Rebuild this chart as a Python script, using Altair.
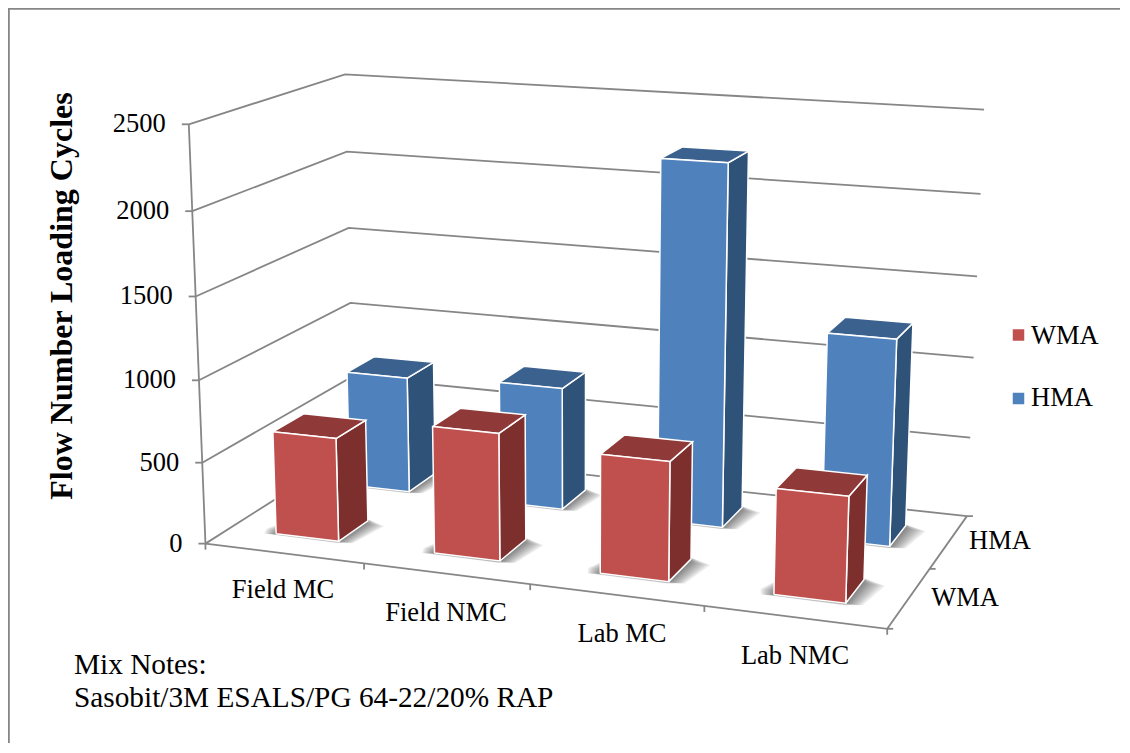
import altair as alt
import numpy as np
import pandas as pd

categories = ["Field MC", "Field NMC", "Lab MC", "Lab NMC"]
series = ["WMA", "HMA"]
wma_values = [635, 770, 710, 620]
hma_values = [740, 770, 2225, 1260]
value_ticks = [0, 500, 1000, 1500, 2000, 2500]
axis_max = 2500

# camera calibration: chart-space (u, v, w) -> page position
calib_3d = [(0,0,0),(0,0,.2),(0,0,.4),(0,0,.6),(0,0,.8),(0,0,1),
            (0,1,0),(0,1,.4),(0,1,.6),(0,1,.8),(0,1,1),
            (1,1,0),(1,1,.2),(1,1,.4),(1,1,.6),(1,1,.8),(1,1,1),
            (1,0,0),(.25,0,0),(.5,0,0),(.75,0,0),(1,.5,0)]
calib_2d = [(206,543),(203,462),(199,380),(196,296),(192,212),(188,125),
            (353,452),(351,303),(349,227),(347,151),(345,74),
            (966,515),(970,437),(974,358),(978,277),(981,194),(983,110),
            (888,630),(363,563),(530,584),(704,606.5),(930,568)]

A, b = [], []
for (X, Y, Z), (px, py) in zip(calib_3d, calib_2d):
    A.append([X, Y, Z, 1, 0, 0, 0, 0, -px*X, -px*Y, -px*Z]); b.append(px)
    A.append([0, 0, 0, 0, X, Y, Z, 1, -py*X, -py*Y, -py*Z]); b.append(py)
P = np.append(np.linalg.lstsq(np.array(A, float), np.array(b, float), rcond=None)[0], 1).reshape(3, 4)


def proj(u, v, val):
    q = P @ np.array([u, v, val / axis_max, 1.0])
    return q[0] / q[2], q[1] / q[2]


polys = []
def add(kind, pid, pts, close=True):
    pts = list(pts) + ([pts[0]] if close else [])
    for i, (px, py) in enumerate(pts):
        polys.append(dict(kind=kind, pid=pid, seq=i, x=px, y=py))


# walls and floor lines
for t in value_ticks:
    add("grid", f"g{t}", [proj(0, 0, t), proj(0, 1, t), proj(1, 1, t)], close=False)
    x0, y0 = proj(0, 0, t)
    add("grid", f"t{t}", [(x0, y0), (x0 - 7, y0)], close=False)
add("grid", "yaxis", [proj(0, 0, 0), proj(0, 0, axis_max)], close=False)
add("grid", "front", [proj(0, 0, 0), proj(1, 0, 0), proj(1, 1, 0)], close=False)
for i in range(5):
    x0, y0 = proj(i / 4, 0, 0)
    add("grid", f"c{i}", [(x0, y0), (x0, y0 + 6)], close=False)
for i in range(3):
    x0, y0 = proj(1, i / 2, 0)
    add("grid", f"d{i}", [(x0, y0), (x0 + 6, y0)], close=False)

# bars
hw, hd = 0.05, 0.1
shadow_spread = [.033, .029, .025, .021, .017, .013, .010, .007, .004, .002]
for s, (name, vals, vc) in enumerate([("HMA", hma_values, .75), ("WMA", wma_values, .25)]):
    for i, val in enumerate(vals):
        uc = (i + .5) / 4
        u0, u1, v0, v1 = uc - hw, uc + hw, vc - hd, vc + hd
        for k, e in enumerate(shadow_spread):
            add("shadow", f"sh{name}{i}{k}",
                [proj(u0 - .7 * e, v0 + .03, 0), proj(u0 - .5 * e, v0 - .35 * e, 0), proj(u1, v0 - .5 * e, 0),
                 proj(u1 + .7 * e, v0, 0), proj(u1 + e, v1 - .03, 0), proj(u1, v1 + .3 * e, 0), proj(u0, v1, 0)])
        add(name + "side", f"{name}{i}s", [proj(u1, v0, 0), proj(u1, v1, 0), proj(u1, v1, val), proj(u1, v0, val)])
        add(name + "top", f"{name}{i}t", [proj(u0, v0, val), proj(u1, v0, val), proj(u1, v1, val), proj(u0, v1, val)])
        add(name + "front", f"{name}{i}f", [proj(u0, v0, 0), proj(u1, v0, 0), proj(u1, v0, val), proj(u0, v0, val)])

poly_df = pd.DataFrame(polys)

W, H = 1112, 735
xs = alt.Scale(domain=[8, 8 + W], range=[0, W], zero=False, nice=False)
ys = alt.Scale(domain=[8, 8 + H], range=[0, H], zero=False, nice=False)
X = alt.X("x:Q", scale=xs, axis=None)
Y = alt.Y("y:Q", scale=ys, axis=None)


def layer(kind, **mk):
    return alt.Chart(poly_df[poly_df.kind == kind]).mark_line(interpolate="linear", **mk).encode(
        x=X, y=Y, order="seq:Q", detail="pid:N")


frame_df = pd.DataFrame(dict(pid=["a", "a", "a"], seq=[0, 1, 2], x=[8.8, 8.8, 1122], y=[743, 8.8, 8.8]))
frame = alt.Chart(frame_df).mark_line(stroke="#868686", strokeWidth=2).encode(x=X, y=Y, order="seq:Q", detail="pid:N")

layers = [frame, layer("grid", stroke="#868686", strokeWidth=1.8)]
for name, cols in [("HMA", ("#4F81BD", "#2F5279", "#3B618F")), ("WMA", ("#C0504D", "#7D2F2D", "#8F3A38"))]:
    layers.append(layer("shadow", stroke="transparent", fill="#444444", fillOpacity=0.10).transform_filter(
        alt.FieldOneOfPredicate(field="pid", oneOf=[p for p in poly_df.pid.unique() if p.startswith("sh" + name)])))
    layers.append(layer(name + "side", fill=cols[1], stroke="white", strokeWidth=1.5))
    layers.append(layer(name + "top", fill=cols[2], stroke="white", strokeWidth=1.5))
    layers.append(layer(name + "front", fill=cols[0], stroke="white", strokeWidth=1.5))

# text
FONT = "Liberation Serif"
texts = []
for t in value_ticks:
    x0, y0 = proj(0, 0, t)
    texts.append(dict(x=x0 - 23, y=y0, t=str(t), align="right", size=26.5))
cat_xy = [(283, 590), (446, 613), (622, 634), (795, 656)]
for c, (px, py) in zip(categories, cat_xy):
    texts.append(dict(x=px, y=py, t=c, align="center", size=26.5))
for s, (px, py) in zip(series, [(965, 598), (1000, 541)]):
    texts.append(dict(x=px, y=py, t=s, align="center", size=26.5))
for s, py in zip(series, [336, 398]):
    texts.append(dict(x=1031, y=py, t=s, align="left", size=26.5))
for t, py in [("Mix Notes:", 665), ("Sasobit/3M ESALS/PG 64-22/20%  RAP", 698)]:
    texts.append(dict(x=74, y=py, t=t, align="left", size=29.3))
text_df = pd.DataFrame(texts)
for (al, sz), part in text_df.groupby(["align", "size"]):
    layers.append(alt.Chart(part).mark_text(
        font=FONT, fontSize=sz, color="black", align=al, baseline="middle").encode(x=X, y=Y, text="t:N"))

title_df = pd.DataFrame([dict(x=62, y=296, t="Flow Number Loading Cycles")])
layers.append(alt.Chart(title_df).mark_text(font=FONT, fontSize=32, fontWeight="bold", angle=270, color="black",
                                            align="center", baseline="middle").encode(x=X, y=Y, text="t:N"))

legend_df = pd.DataFrame(dict(x=[1018.5, 1018.5], y=[335, 398.5], s=series))
layers.append(alt.Chart(legend_df).mark_point(shape="square", filled=True, size=132, opacity=1).encode(
    x=X, y=Y, color=alt.Color("s:N", scale=alt.Scale(domain=series, range=["#C0504D", "#4F81BD"]), legend=None)))

chart = alt.layer(*layers).properties(width=W, height=H, padding=0, autosize=alt.AutoSizeParams(type="none"),
                                      background="white").configure_view(strokeWidth=0)
chart.save("out.html", embed_options={"renderer": "svg", "actions": False})
